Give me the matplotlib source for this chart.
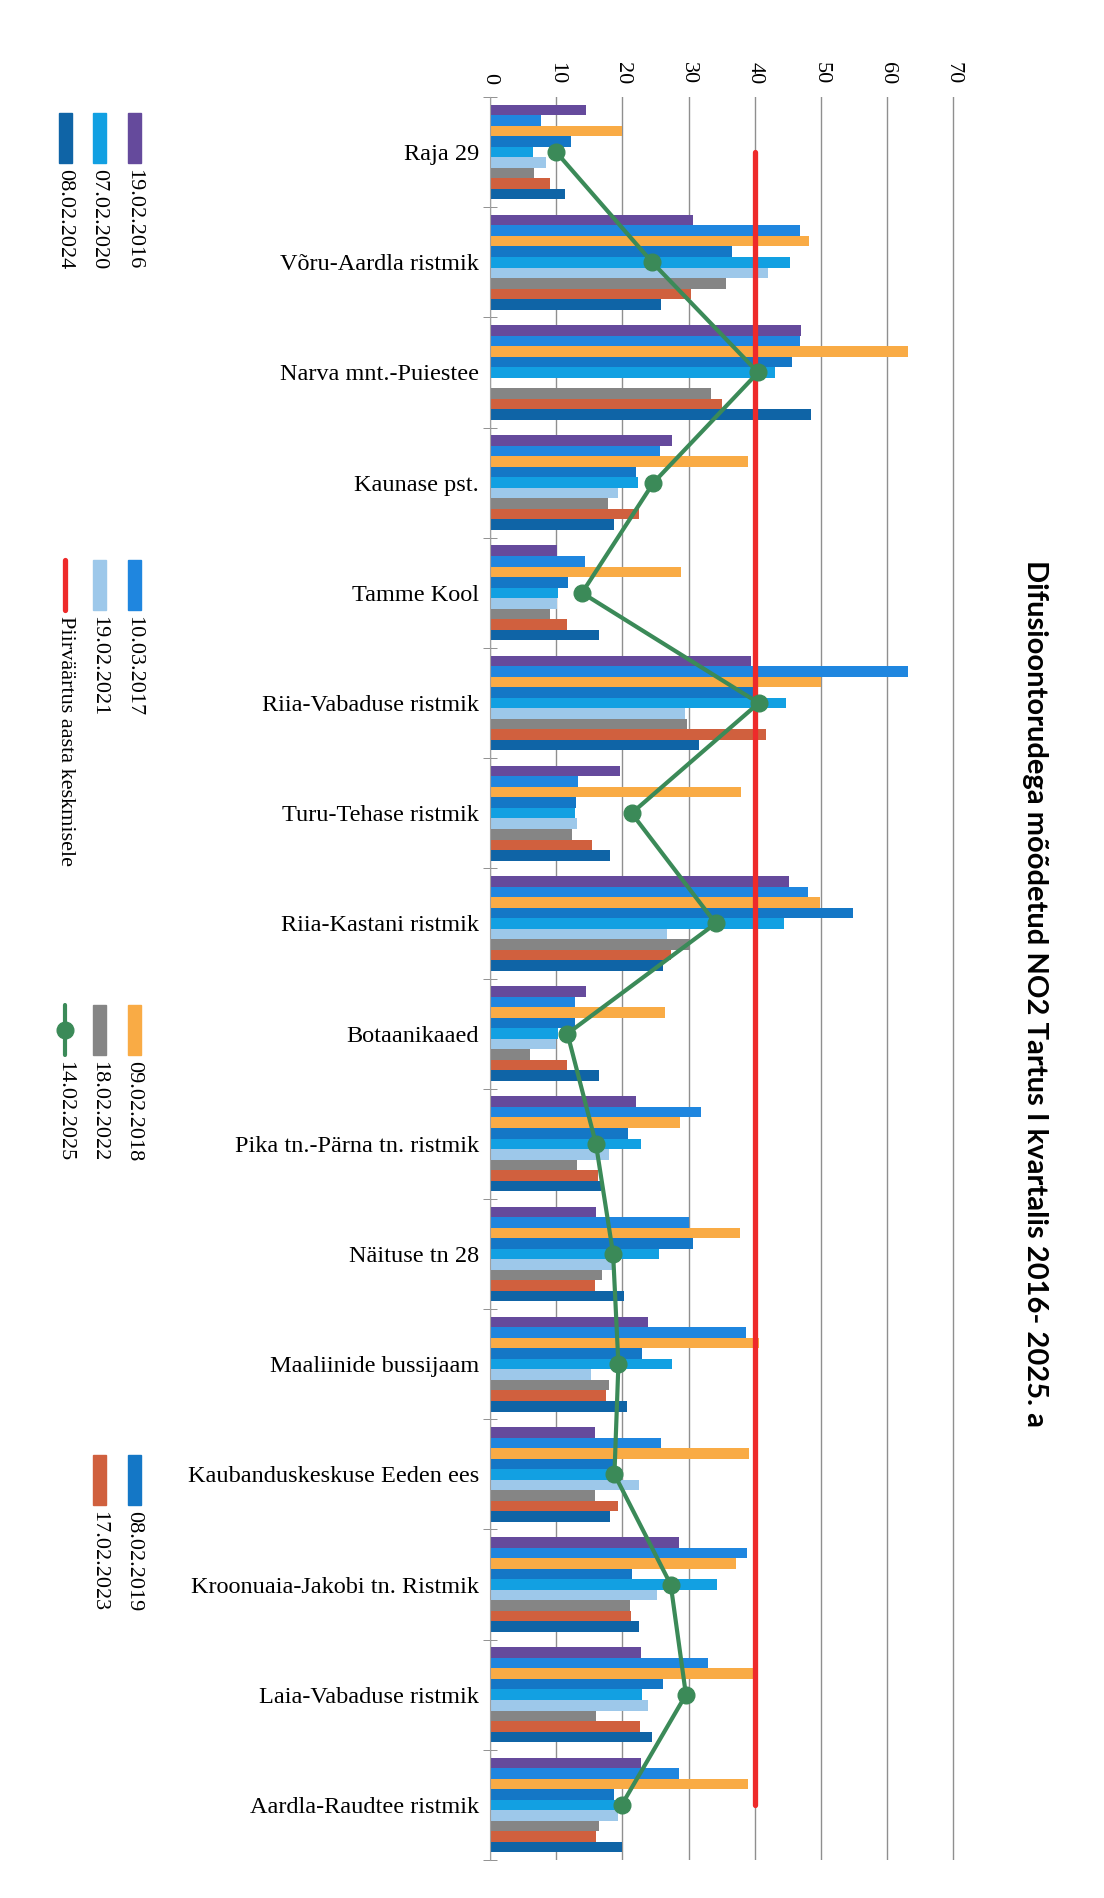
import numpy as np
import matplotlib.pyplot as plt
from matplotlib.patches import Rectangle
from matplotlib.lines import Line2D

plt.rcParams.update({
    "font.family": "Liberation Serif",
})

W, H = 1104, 1898

# ===========================
# Data (NO2, ug/m3)
# ===========================
locations = ["Raja 29", "Võru-Aardla ristmik", "Narva mnt.-Puiestee", "Kaunase pst.",
             "Tamme Kool", "Riia-Vabaduse ristmik", "Turu-Tehase ristmik",
             "Riia-Kastani ristmik", "Botaanikaaed", "Pika tn.-Pärna tn. ristmik",
             "Näituse tn 28", "Maaliinide bussijaam", "Kaubanduskeskuse Eeden ees",
             "Kroonuaia-Jakobi tn. Ristmik", "Laia-Vabaduse ristmik", "Aardla-Raudtee ristmik"]

no2_2016 = [14.5, 30.7, 47.0, 27.5, 10.1, 39.4, 19.7, 45.1, 14.5, 22.1, 16.0, 23.9, 15.9, 28.5, 22.8, 22.8]
no2_2017 = [7.7, 46.8, 46.9, 25.7, 14.3, 63.2, 13.3, 48.1, 12.8, 31.9, 30.0, 38.6, 25.8, 38.9, 33.0, 28.5]
no2_2018 = [20.0, 48.2, 63.1, 39.0, 28.9, 50.0, 37.9, 49.8, 26.5, 28.7, 37.7, 40.7, 39.1, 37.2, 39.7, 39.0]
no2_2019 = [12.2, 36.5, 45.7, 22.0, 11.8, 40.4, 13.0, 54.9, 12.8, 20.8, 30.7, 22.9, 18.7, 21.4, 26.2, 18.8]
no2_2020 = [6.5, 45.3, 43.0, 22.4, 10.2, 44.7, 12.9, 44.4, 10.2, 22.8, 25.5, 27.5, 19.9, 34.3, 23.0, 18.9]
no2_2021 = [8.4, 42.0, np.nan, 19.4, 10.1, 29.4, 13.1, 26.7, 9.9, 18.0, 18.4, 15.2, 22.5, 25.3, 23.8, 19.4]
no2_2022 = [6.6, 35.7, 33.4, 17.9, 9.1, 29.7, 12.4, 30.2, 6.1, 13.2, 16.9, 18.0, 15.9, 21.2, 16.0, 16.5]
no2_2023 = [9.0, 30.4, 35.1, 22.5, 11.7, 41.7, 15.4, 27.4, 11.6, 16.3, 15.8, 17.5, 19.4, 21.3, 22.7, 16.0]
no2_2024 = [11.4, 25.8, 48.5, 18.7, 16.4, 31.6, 18.2, 26.2, 16.5, 16.8, 20.2, 20.7, 18.1, 22.5, 24.5, 19.9]
no2_2025 = [10.0, 24.5, 40.5, 24.7, 13.9, 40.6, 21.4, 34.1, 11.7, 16.0, 18.6, 19.4, 18.8, 27.3, 29.6, 19.9]
limit_value = 40

bar_labels = ["19.02.2016", "10.03.2017", "09.02.2018", "08.02.2019", "07.02.2020",
              "19.02.2021", "18.02.2022", "17.02.2023", "08.02.2024"]
bar_series = [no2_2016, no2_2017, no2_2018, no2_2019, no2_2020,
              no2_2021, no2_2022, no2_2023, no2_2024]
bar_colors = ["#654a9c", "#1f86df", "#f9ab45", "#1477c6", "#12a0e2",
              "#9dc8ea", "#858585", "#d0603e", "#0f64a6"]
line_label = "14.02.2025"
limit_label = "Piirväärtus aasta keskmisele"
green = "#3b8a58"
red = "#ee2a2a"

title = "Difusioontorudega mõõdetud NO2 Tartus I kvartalis 2016- 2025. a"

# ===========================
# Figure (drawn sideways: values run left to right)
# ===========================
fig = plt.figure(figsize=(W / 100, H / 100), dpi=100)
ax = fig.add_axes([490 / W, 1 - 1860 / H, (955 - 490) / W, (1860 - 97) / H])

y = np.arange(len(locations))
h = 0.0955
for j, (vals, col) in enumerate(zip(bar_series, bar_colors)):
    ax.barh(y + (j - 4) * h, vals, height=h, color=col, zorder=2)

ax.plot(np.full(len(y), limit_value), y, color=red, lw=3.8, zorder=3,
        solid_capstyle='round')
ax.plot(no2_2025, y, color=green, lw=3, marker='o', ms=12, zorder=4)

ax.set_xlim(0, 70.25)
ax.set_ylim(len(locations) - 0.5, -0.5)

ax.xaxis.tick_top()
ax.set_xticks(np.arange(0, 71, 10))
ax.set_xticklabels([str(v) for v in range(0, 71, 10)], rotation=-90, fontsize=16)
ax.tick_params(axis='x', length=0, pad=9)
ax.grid(axis='x', color='#8f8f8f', lw=1, zorder=0)

ax.set_yticks(y)
ax.set_yticklabels(locations, fontsize=17.5)
ax.set_yticks(np.arange(-0.5, len(locations)), minor=True)
ax.tick_params(axis='y', which='major', length=0, pad=8)
ax.tick_params(axis='y', which='minor', length=10, direction='inout', color='#808080')

for s in ['top', 'right', 'bottom']:
    ax.spines[s].set_visible(False)
ax.spines['left'].set_color('#a0a0a0')

# Title on the right edge
fig.text(1035 / W, 1 - 993 / H, title, rotation=-90, ha='center', va='center',
         fontsize=21, fontweight='bold', family='Lato')

# ===========================
# Legend, laid out by hand in pixel coordinates
# ===========================
def fx(px):
    return px / W


def fy(py):
    return 1 - py / H


col_x = [134, 99, 65]
row_y = [113, 560, 1005, 1455]
entries = [(lab, 'bar', c) for lab, c in zip(bar_labels, bar_colors)]
entries.insert(9, (limit_label, 'limit', red))
entries.append((line_label, 'line', green))

for k, (lab, kind, col) in enumerate(entries):
    xc = col_x[k // 4]
    y0 = row_y[k % 4]
    if kind == 'bar':
        fig.add_artist(Rectangle((fx(xc - 6.5), fy(y0 + 50)), 13 / W, 50 / H,
                                 transform=fig.transFigure, color=col))
    else:
        fig.add_artist(Line2D([fx(xc), fx(xc)], [fy(y0), fy(y0 + 50)], color=col,
                              lw=3.8 if kind == 'limit' else 3,
                              solid_capstyle='round', transform=fig.transFigure))
        if kind == 'line':
            fig.add_artist(Line2D([fx(xc)], [fy(y0 + 25)], color=col, marker='o',
                                  ms=12, transform=fig.transFigure))
    fig.text(fx(xc), fy(y0 + 56), lab, rotation=-90, ha='center', va='top', fontsize=16)

plt.savefig("out.png", dpi=100)
